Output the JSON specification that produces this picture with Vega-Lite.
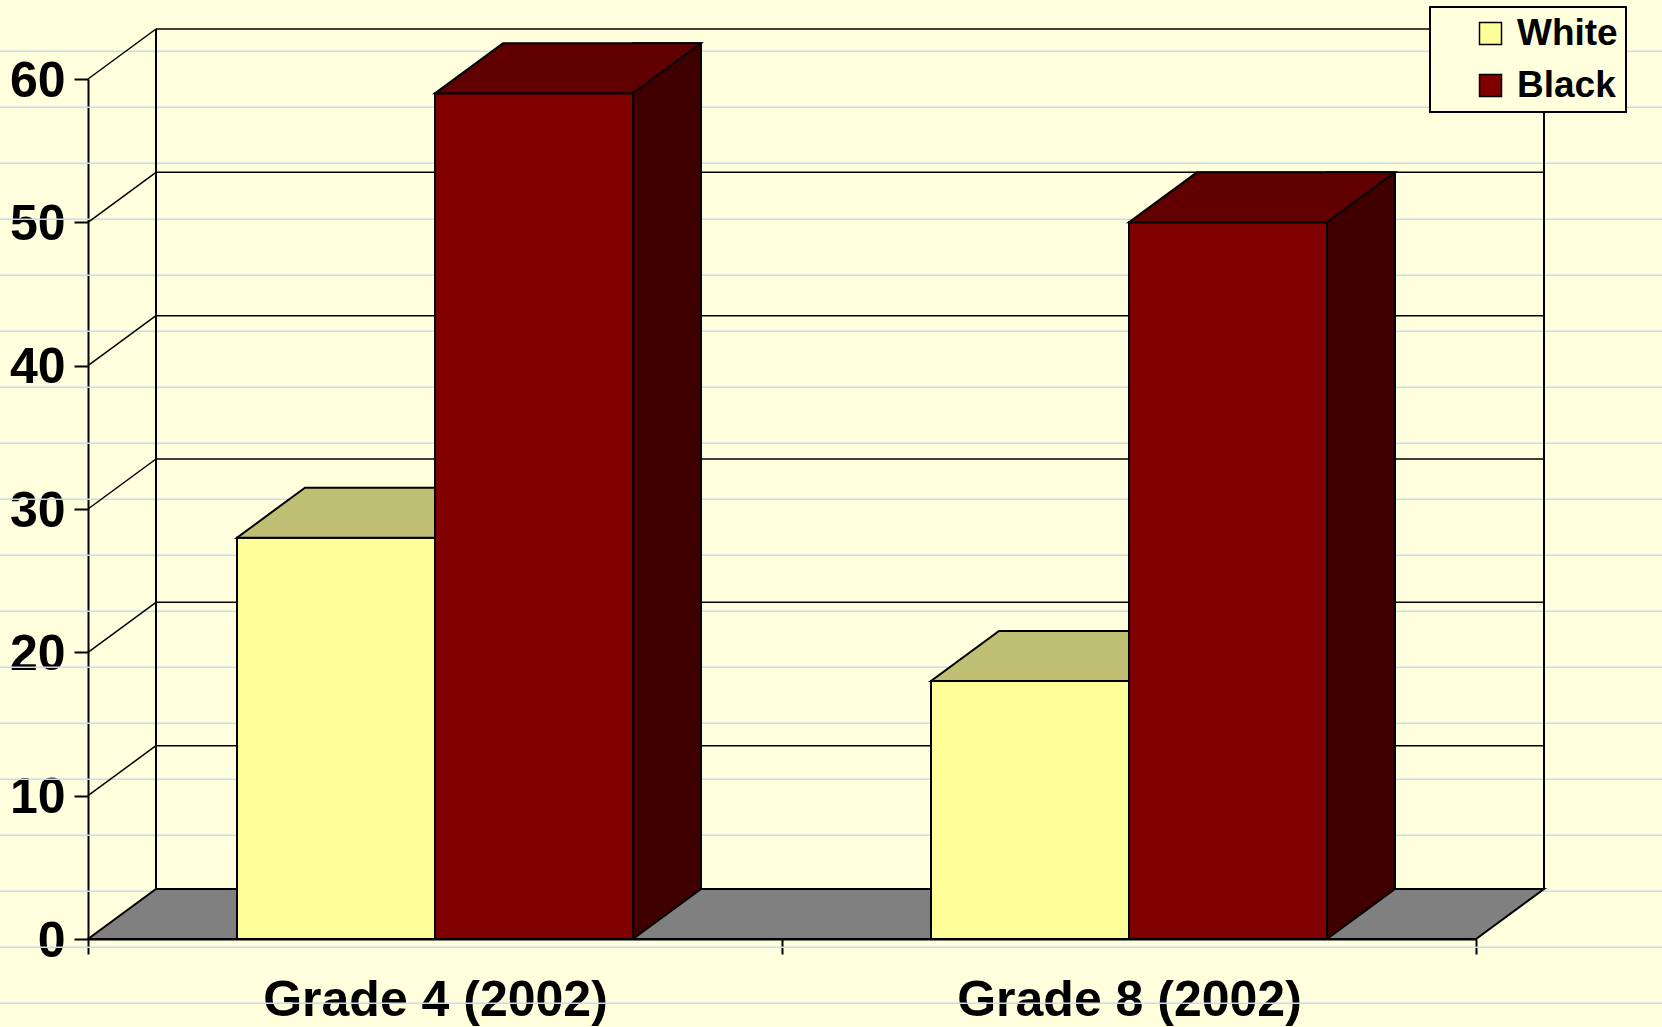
{
  "$schema": "https://vega.github.io/schema/vega-lite/v6.json",
  "width": 1662,
  "height": 1027,
  "padding": 0,
  "autosize": {"type": "none"},
  "background": "#FFFFDD",
  "config": {
    "view": {"stroke": null},
    "font": "Liberation Sans",
    "legend": {
      "orient": "none",
      "legendX": 1430,
      "legendY": 7,
      "padding": 8,
      "strokeColor": "black",
      "strokeWidth": 2,
      "fillColor": "#FFFFDD",
      "symbolType": "square",
      "symbolSize": 484,
      "symbolStrokeColor": "black",
      "symbolStrokeWidth": 1.5,
      "symbolOffset": 34,
      "labelFont": "Liberation Sans",
      "labelFontSize": 37,
      "labelFontWeight": "bold",
      "labelColor": "black",
      "labelOffset": 8,
      "rowPadding": 14
    }
  },
  "datasets": {
    "scores": [
      {"grade": "Grade 4 (2002)", "race": "White", "value": 28},
      {"grade": "Grade 4 (2002)", "race": "Black", "value": 59},
      {"grade": "Grade 8 (2002)", "race": "White", "value": 18},
      {"grade": "Grade 8 (2002)", "race": "Black", "value": 50}
    ],
    "levels": [
      {"level": 10}, {"level": 20}, {"level": 30}, {"level": 40}, {"level": 50}, {"level": 60}
    ],
    "ruled": [
      {"line": 0}, {"line": 1}, {"line": 2}, {"line": 3}, {"line": 4}, {"line": 5},
      {"line": 6}, {"line": 7}, {"line": 8}, {"line": 9}, {"line": 10}, {"line": 11},
      {"line": 12}, {"line": 13}, {"line": 14}, {"line": 15}, {"line": 16}, {"line": 17}
    ],
    "frame": [{"part": "frame"}]
  },
  "layer": [
    {
      "data": {"name": "ruled"},
      "mark": {"type": "rule", "stroke": "#C8DCF1", "strokeWidth": 1.6},
      "encoding": {
        "y": {
          "field": "line",
          "type": "quantitative",
          "scale": {"domain": [-0.9161, 17.4232], "range": [0, 1027], "nice": false, "zero": false},
          "axis": null
        }
      }
    },
    {
      "layer": [
        {
          "data": {"name": "levels"},
          "mark": {"type": "rule", "stroke": "black", "strokeWidth": 1.5, "xOffset": 68, "x2Offset": 68, "yOffset": -50},
          "encoding": {
            "x": {
              "datum": "Grade 4 (2002)",
              "type": "nominal",
              "bandPosition": 0,
              "scale": {"type": "band", "domain": ["Grade 4 (2002)", "Grade 8 (2002)"], "range": [88, 1476], "paddingInner": 0, "paddingOuter": 0},
              "axis": {
                "orient": "bottom",
                "offset": -88,
                "title": null,
                "grid": false,
                "tickBand": "extent",
                "tickSize": 15,
                "tickWidth": 2,
                "tickColor": "black",
                "domainColor": "black",
                "domainWidth": 2,
                "labelFont": "Liberation Sans",
                "labelFontSize": 50,
                "labelFontWeight": "bold",
                "labelColor": "black",
                "labelPadding": 21,
                "labelAngle": 0,
                "labelLimit": 0
              }
            },
            "x2": {"datum": "Grade 8 (2002)", "bandPosition": 1},
            "y": {
              "field": "level",
              "type": "quantitative",
              "scale": {"domain": [0, 60], "range": [939, 79], "nice": false, "zero": false},
              "axis": {
                "orient": "left",
                "offset": -88,
                "title": null,
                "grid": false,
                "values": [0, 10, 20, 30, 40, 50, 60],
                "tickSize": 14,
                "tickWidth": 2,
                "tickColor": "black",
                "domainColor": "black",
                "domainWidth": 2,
                "labelFont": "Liberation Sans",
                "labelFontSize": 50,
                "labelFontWeight": "bold",
                "labelColor": "black",
                "labelPadding": 9,
                "labelOffset": 2
              }
            }
          }
        },
        {
          "data": {"name": "levels"},
          "mark": {"type": "rule", "stroke": "black", "strokeWidth": 1.5, "x2Offset": 68, "y2Offset": -50},
          "encoding": {
            "x": {"datum": "Grade 4 (2002)", "type": "nominal", "bandPosition": 0},
            "x2": {"datum": "Grade 4 (2002)", "bandPosition": 0},
            "y": {"field": "level", "type": "quantitative"},
            "y2": {"field": "level"}
          }
        },
        {
          "data": {"name": "frame"},
          "mark": {"type": "rule", "stroke": "black", "strokeWidth": 2, "xOffset": 68, "yOffset": -50, "y2Offset": -50},
          "encoding": {
            "x": {"datum": "Grade 4 (2002)", "type": "nominal", "bandPosition": 0},
            "y": {"datum": 60, "type": "quantitative"},
            "y2": {"datum": 0}
          }
        },
        {
          "data": {"name": "frame"},
          "mark": {"type": "rule", "stroke": "black", "strokeWidth": 2, "xOffset": 68, "yOffset": -50, "y2Offset": -50},
          "encoding": {
            "x": {"datum": "Grade 8 (2002)", "type": "nominal", "bandPosition": 1},
            "y": {"datum": 60, "type": "quantitative"},
            "y2": {"datum": 0}
          }
        },
        {
          "data": {"name": "frame"},
          "mark": {"type": "point", "shape": "M0,0L1388,0L1456,-50L68,-50Z", "size": 4, "filled": true, "fill": "#808080", "stroke": "black", "strokeWidth": 2, "opacity": 1},
          "encoding": {
            "x": {"datum": "Grade 4 (2002)", "type": "nominal", "bandPosition": 0},
            "y": {"datum": 0, "type": "quantitative"}
          }
        },
        {
          "data": {"name": "scores"},
          "transform": [{"filter": "datum.race === 'White'"}],
          "mark": {"type": "bar", "width": 198, "xOffset": -99, "stroke": "black", "strokeWidth": 2, "opacity": 1},
          "encoding": {
            "x": {"field": "grade", "type": "nominal"},
            "y": {"field": "value", "type": "quantitative", "stack": null},
            "color": {
              "field": "race",
              "type": "nominal",
              "scale": {"domain": ["White", "Black"], "range": ["#FFFF99", "#800000"]},
              "legend": {"title": null}
            }
          }
        },
        {
          "data": {"name": "scores"},
          "transform": [{"filter": "datum.race === 'White'"}],
          "mark": {"type": "point", "shape": "M-198,0L0,0L68,-50L-130,-50Z", "size": 4, "filled": true, "fill": "#BFBF73", "stroke": "black", "strokeWidth": 2, "opacity": 1},
          "encoding": {
            "x": {"field": "grade", "type": "nominal"},
            "y": {"field": "value", "type": "quantitative"}
          }
        },
        {
          "data": {"name": "scores"},
          "transform": [{"filter": "datum.race === 'Black'"}],
          "mark": {"type": "bar", "width": 68, "xOffset": 232, "yOffset": -50, "fill": "#400000", "stroke": "black", "strokeWidth": 2, "opacity": 1},
          "encoding": {
            "x": {"field": "grade", "type": "nominal"},
            "y": {"field": "value", "type": "quantitative", "stack": null}
          }
        },
        {
          "data": {"name": "scores"},
          "transform": [{"filter": "datum.race === 'Black'"}],
          "mark": {"type": "bar", "width": 198, "xOffset": 99, "stroke": "black", "strokeWidth": 2, "opacity": 1},
          "encoding": {
            "x": {"field": "grade", "type": "nominal"},
            "y": {"field": "value", "type": "quantitative", "stack": null},
            "color": {
              "field": "race",
              "type": "nominal",
              "scale": {"domain": ["White", "Black"], "range": ["#FFFF99", "#800000"]},
              "legend": {"title": null}
            }
          }
        },
        {
          "data": {"name": "scores"},
          "transform": [{"filter": "datum.race === 'Black'"}],
          "mark": {"type": "point", "shape": "M0,0L198,0L266,-50L68,-50Z", "size": 4, "filled": true, "fill": "#600000", "stroke": "black", "strokeWidth": 2, "opacity": 1},
          "encoding": {
            "x": {"field": "grade", "type": "nominal"},
            "y": {"field": "value", "type": "quantitative"}
          }
        },
        {
          "data": {"name": "scores"},
          "transform": [{"filter": "datum.race === 'Black'"}],
          "mark": {"type": "point", "shape": "M272,-50L266,-50L198,0L272,0", "size": 4, "filled": true, "fill": "#808080", "stroke": "black", "strokeWidth": 2, "opacity": 1},
          "encoding": {
            "x": {"field": "grade", "type": "nominal"},
            "y": {"datum": 0, "type": "quantitative"}
          }
        }
      ]
    }
  ],
  "resolve": {"scale": {"y": "independent"}, "axis": {"y": "independent"}}
}
